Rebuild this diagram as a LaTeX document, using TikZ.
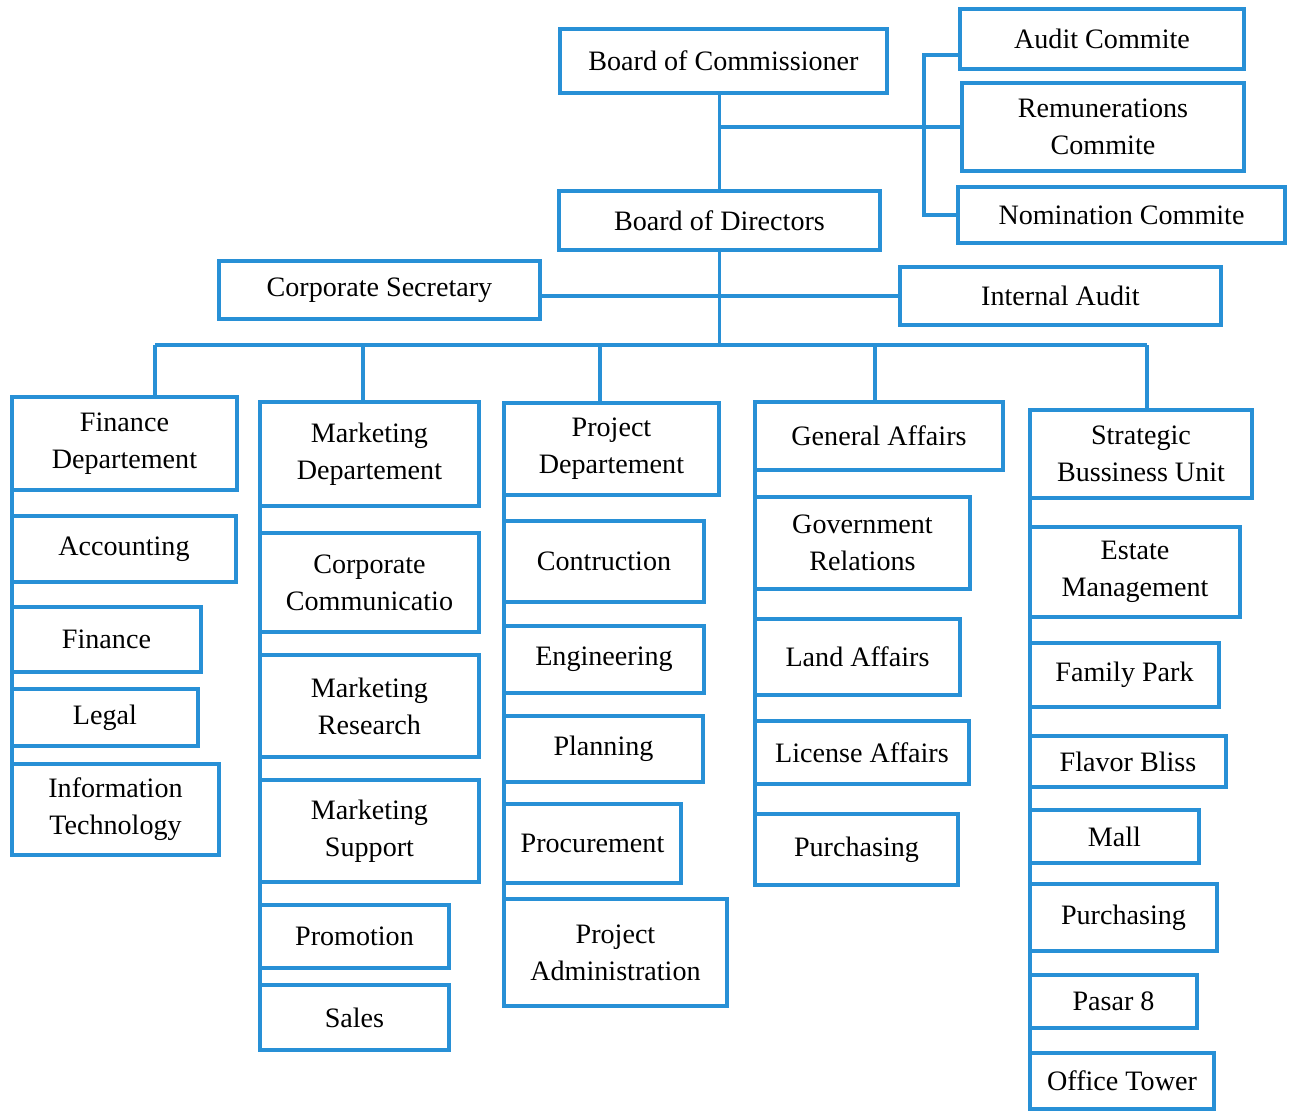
\documentclass[tikz,border=0pt]{standalone}
\usepackage{fontspec}
\setmainfont{Liberation Serif}
\definecolor{orgblue}{RGB}{40,144,214}
\begin{document}
\begin{tikzpicture}[x=0.02cm, y=-0.02cm]
\tikzstyle{box} = [draw=orgblue, line width=2pt, anchor=north west, align=center, inner sep=2pt, outer sep=0pt, font=\fontsize{16}{21}\selectfont]
\tikzstyle{e} = [draw=orgblue, line width=2pt]
\useasboundingbox (0,0) rectangle (1294,1110);

% top levels
\node[box, minimum width=6.54cm, minimum height=1.28cm] (BoC) at (560,29) {Board of Commissioner};
\node[box, minimum width=5.68cm, minimum height=1.20cm] (Audit) at (960,9) {Audit Commite};
\node[box, minimum width=5.64cm, minimum height=1.76cm] (Remun) at (962,83) {Remunerations\\Commite};
\node[box, minimum width=6.54cm, minimum height=1.12cm] (Nom) at (958,187) {Nomination Commite};
\node[box, minimum width=6.42cm, minimum height=1.18cm] (BoD) at (559,191) {Board of Directors};
\node[box, minimum width=6.42cm, minimum height=1.16cm] (CorpSec) at (219,261) {Corporate Secretary};
\node[box, minimum width=6.42cm, minimum height=1.16cm] (IntAudit) at (900,267) {Internal Audit};

% finance
\node[box, minimum width=4.50cm, minimum height=1.86cm] (FinDep) at (12,397) {Finance\\Departement};
\node[box, minimum width=4.48cm, minimum height=1.32cm] (Acc) at (12,516) {Accounting};
\node[box, minimum width=3.78cm, minimum height=1.30cm] (Fin) at (12,607) {Finance};
\node[box, minimum width=3.72cm, minimum height=1.14cm] (Legal) at (12,689) {Legal};
\node[box, minimum width=4.14cm, minimum height=1.82cm] (IT) at (12,764) {Information\\Technology};

% marketing
\node[box, minimum width=4.38cm, minimum height=2.08cm] (MktDep) at (260,402) {Marketing\\Departement};
\node[box, minimum width=4.38cm, minimum height=1.98cm] (CorpCom) at (260,533) {Corporate\\Communicatio};
\node[box, minimum width=4.38cm, minimum height=2.04cm] (MktRes) at (260,655) {Marketing\\Research};
\node[box, minimum width=4.38cm, minimum height=2.04cm] (MktSup) at (260,780) {Marketing\\Support};
\node[box, minimum width=3.78cm, minimum height=1.26cm] (Promo) at (260,905) {Promotion};
\node[box, minimum width=3.78cm, minimum height=1.30cm] (Sales) at (260,985) {Sales};

% project
\node[box, minimum width=4.30cm, minimum height=1.84cm] (ProjDep) at (504,403) {Project\\Departement};
\node[box, minimum width=4.00cm, minimum height=1.62cm] (Contr) at (504,521) {Contruction};
\node[box, minimum width=4.00cm, minimum height=1.34cm] (Eng) at (504,626) {Engineering};
\node[box, minimum width=3.98cm, minimum height=1.32cm] (Plan) at (504,716) {Planning};
\node[box, minimum width=3.54cm, minimum height=1.58cm] (Proc) at (504,804) {Procurement};
\node[box, minimum width=4.46cm, minimum height=2.14cm] (ProjAdm) at (504,899) {Project\\Administration};

% general affairs
\node[box, minimum width=4.96cm, minimum height=1.36cm] (GA) at (755,402) {General Affairs};
\node[box, minimum width=4.30cm, minimum height=1.84cm] (GovRel) at (755,497) {Government\\Relations};
\node[box, minimum width=4.10cm, minimum height=1.52cm] (Land) at (755,619) {Land Affairs};
\node[box, minimum width=4.28cm, minimum height=1.26cm] (License) at (755,721) {License Affairs};
\node[box, minimum width=4.06cm, minimum height=1.42cm] (PurchGA) at (755,814) {Purchasing};

% strategic business unit
\node[box, minimum width=4.44cm, minimum height=1.76cm] (SBU) at (1030,410) {Strategic\\Bussiness Unit};
\node[box, minimum width=4.20cm, minimum height=1.80cm] (Estate) at (1030,527) {Estate\\Management};
\node[box, minimum width=3.78cm, minimum height=1.28cm] (Family) at (1030,643) {Family Park};
\node[box, minimum width=3.92cm, minimum height=1.02cm] (Flavor) at (1030,736) {Flavor Bliss};
\node[box, minimum width=3.38cm, minimum height=1.06cm] (Mall) at (1030,810) {Mall};
\node[box, minimum width=3.74cm, minimum height=1.34cm] (PurchSBU) at (1030,884) {Purchasing};
\node[box, minimum width=3.34cm, minimum height=1.06cm] (Pasar) at (1030,975) {Pasar 8};
\node[box, minimum width=3.68cm, minimum height=1.12cm] (Office) at (1030,1053) {Office Tower};

\coordinate (cs) at (924,128);
\coordinate (bus) at (720,345);
\coordinate (b1) at (155,345);
\coordinate (b2) at (363,345);
\coordinate (b3) at (600,345);
\coordinate (b4) at (875,345);
\coordinate (b5) at (1147,345);

% trunk and committees
\draw[e] (BoD.north) -- (BoD.north |- BoC.south);
\draw[e] (BoD.north |- Remun.west) -- (Remun.west);
\draw[e] ([yshift=-0.32cm]Audit.west) -| (cs) |- (Nom.west);
\draw[e] (BoD.south) -- (BoD.south |- bus);
\draw[e] (CorpSec.east |- IntAudit.west) -- (IntAudit.west);

% departments
\draw[e] (b1) -- (b5);
\draw[e] (b1) -- (b1 |- FinDep.north);
\draw[e] (b2) -- (b2 |- MktDep.north);
\draw[e] (b3) -- (b3 |- ProjDep.north);
\draw[e] (b4) -- (b4 |- GA.north);
\draw[e] (b5) -- (b5 |- SBU.north);

\draw[e] (FinDep.south west) -- (IT.south west);
\draw[e] (MktDep.south west) -- (Sales.south west);
\draw[e] (ProjDep.south west) -- (ProjAdm.south west);
\draw[e] (GA.south west) -- (PurchGA.south west);
\draw[e] (SBU.south west) -- (Office.south west);
\end{tikzpicture}
\end{document}
